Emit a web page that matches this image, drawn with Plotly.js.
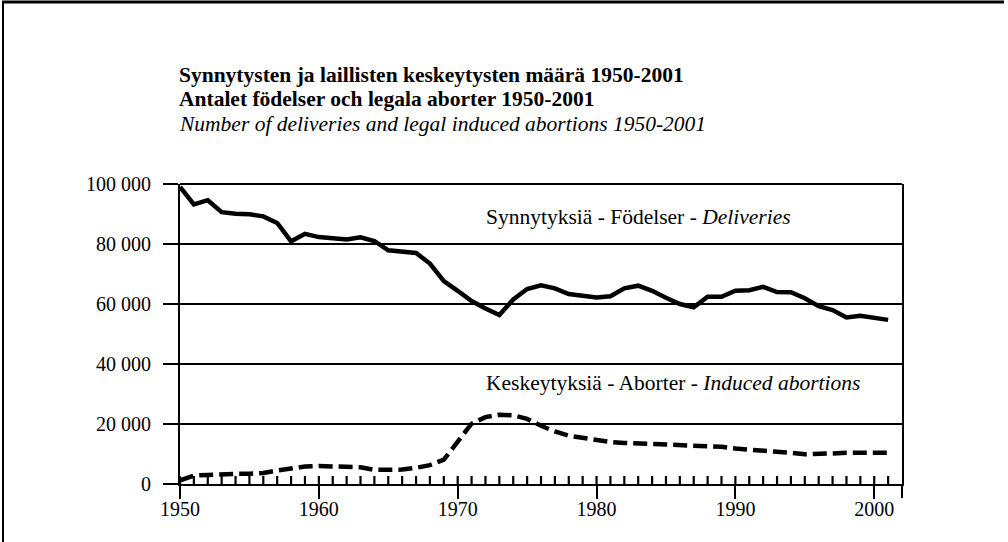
<!DOCTYPE html>
<html>
<head>
<meta charset="utf-8">
<script src="https://cdn.plot.ly/plotly-3.0.1.min.js"></script>
<style>html,body{margin:0;padding:0;background:#fff;}#chart{width:1008px;height:542px;}</style>
</head>
<body>
<div id="chart"></div>
<script>
// ---- data ----
const years = [1950,1951,1952,1953,1954,1955,1956,1957,1958,1959,
               1960,1961,1962,1963,1964,1965,1966,1967,1968,1969,
               1970,1971,1972,1973,1974,1975,1976,1977,1978,1979,
               1980,1981,1982,1983,1984,1985,1986,1987,1988,1989,
               1990,1991,1992,1993,1994,1995,1996,1997,1998,1999,
               2000,2001];
const deliveries = [99000,93200,94600,90600,90100,89900,89200,87000,80900,83400,
                    82300,82000,81500,82200,81000,77900,77300,77000,73500,67600,
                    64400,61000,58500,56300,61500,65000,66200,65200,63300,62600,
                    62200,62600,65200,66100,64400,62100,60000,58900,62400,62400,
                    64400,64600,65700,64000,63900,61900,59300,58000,55500,56100,
                    55400,54700];
const abortions = [1200,2800,3000,3300,3400,3400,3700,4500,5100,5800,
                   6000,5900,5700,5600,4700,4600,4800,5400,6300,8100,
                   14200,20100,22300,23100,22900,21700,19400,17500,16100,15300,
                   14600,14000,13700,13500,13500,13300,13100,12800,12600,12400,
                   11800,11500,11100,10600,10400,9900,9900,10200,10400,10500,
                   10500,10400];
const xTickVals = [1950,1960,1970,1980,1990,2000];
const yTickVals = [0,20000,40000,60000,80000,100000];
const yTickText = ['0','20 000','40 000','60 000','80 000','100 000'];
const titleLines = [
  '<b>Synnytysten ja laillisten keskeytysten määrä 1950-2001</b>',
  '<b>Antalet födelser och legala aborter 1950-2001</b>',
  '<i>Number of deliveries and legal induced abortions 1950-2001</i>'
];
const seriesLabels = [
  'Synnytyksiä - Födelser - <i>Deliveries</i>',
  'Keskeytyksiä - Aborter - <i>Induced abortions</i>'
];

// ---- layout helpers (pixel -> paper) ----
const W = 1008, H = 542;
const M = {l:180, r:106, t:184, b:58};
const PW = W - M.l - M.r, PH = H - M.t - M.b;
const px = x => (x - M.l) / PW;
const py = y => (H - M.b - y) / PH;
const FONT = 'Liberation Serif, DejaVu Serif, serif';
const Y_MAX = 100000;
const MINOR_TICK_PX = 8;
const minorH = Y_MAX * MINOR_TICK_PX / PH;

// yearly tick marks rising from the baseline, built from the years array
const tickX = [], tickY = [];
years.forEach(yr => { tickX.push(yr, yr, null); tickY.push(0, minorH, null); });

const traces = [
  {x: tickX, y: tickY, type:'scatter', mode:'lines', connectgaps:false, cliponaxis:false,
   line:{color:'#000', width:2.2}, hoverinfo:'skip'},
  {x: years, y: deliveries, type:'scatter', mode:'lines',
   line:{color:'#000', width:4.5}, hoverinfo:'skip'},
  {x: years, y: abortions, type:'scatter', mode:'lines',
   line:{color:'#000', width:4.5, dash:'14px,6px'}, hoverinfo:'skip'}
];

const annotations = [];
const titleY = [75, 99, 124];
titleLines.forEach((t,i)=>annotations.push({
  text:t, xref:'paper', yref:'paper', x:px(177), y:py(titleY[i]),
  xanchor:'left', yanchor:'middle', showarrow:false,
  font:{family:FONT, size:21.5, color:'#000'}
}));
annotations.push({text:seriesLabels[0], xref:'x', yref:'y', x:1971.9, y:89000,
  xanchor:'left', yanchor:'middle', showarrow:false, font:{family:FONT, size:21.5, color:'#000'}});
annotations.push({text:seriesLabels[1], xref:'x', yref:'y', x:1971.9, y:33800,
  xanchor:'left', yanchor:'middle', showarrow:false, font:{family:FONT, size:21.5, color:'#000'}});

const layout = {
  width: W, height: H,
  margin: M,
  paper_bgcolor:'#fff', plot_bgcolor:'#fff',
  showlegend:false,
  font:{family:FONT, color:'#000'},
  xaxis:{
    range:[1950,2002], tickmode:'array', tickvals:xTickVals, ticks:'outside', ticklen:13, tickwidth:2,
    tickcolor:'#000', showgrid:false, zeroline:false, showline:true, linecolor:'#000', linewidth:2,
    ticklabelstandoff:-7,
    tickfont:{family:FONT, size:20, color:'#000'}
  },
  yaxis:{
    range:[0,Y_MAX], tickvals:yTickVals, ticktext:yTickText, ticks:'outside', ticklen:15, tickwidth:2,
    tickcolor:'#000', showgrid:true, gridcolor:'#000', gridwidth:1.5, zeroline:false,
    showline:true, linecolor:'#000', linewidth:2, mirror:true, ticklabelstandoff:8,
    tickfont:{family:FONT, size:20, color:'#000'}
  },
  annotations: annotations,
  shapes:[
    {type:'line', xref:'paper', yref:'paper', x0:1, x1:1, y0:0, y1:py(498), line:{color:'#000', width:2}},
    {type:'line', xref:'paper', yref:'paper', x0:0, x1:1, y0:1, y1:1, line:{color:'#000', width:2}},
    {type:'line', xref:'paper', yref:'paper', x0:px(3), x1:px(3), y0:py(2), y1:py(542), line:{color:'#000', width:2}},
    {type:'line', xref:'paper', yref:'paper', x0:px(2), x1:px(1004), y0:py(2), y1:py(2), line:{color:'#000', width:3}}
  ]
};

Plotly.newPlot('chart', traces, layout, {staticPlot:true, displayModeBar:false});
</script>
</body>
</html>
